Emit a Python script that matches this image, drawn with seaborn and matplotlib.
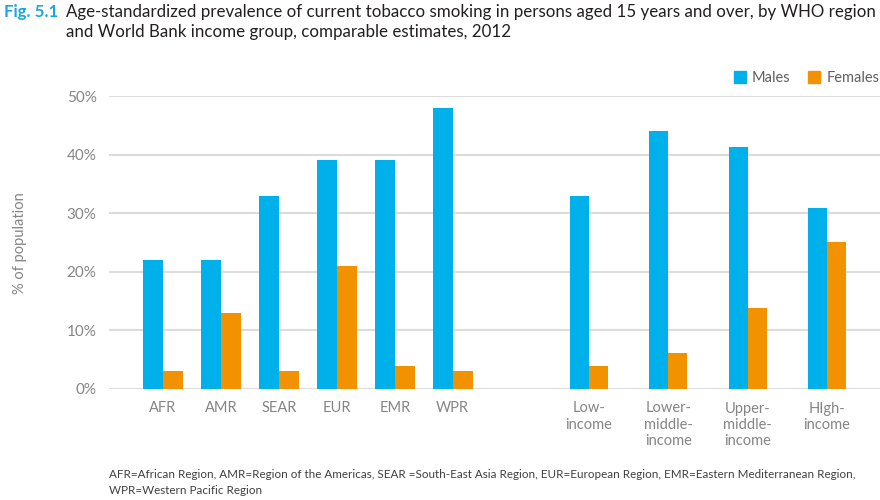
import pandas as pd
import seaborn as sns
import matplotlib.pyplot as plt
from matplotlib.patches import Patch

sns.set_theme(style="whitegrid")
plt.rcParams["font.family"] = ["Lato", "DejaVu Sans"]

# values (% of population)
regions = ["AFR", "AMR", "SEAR", "EUR", "EMR", "WPR"]
region_males = [22, 22, 33, 39, 39, 48]
region_females = [3, 13, 3, 21, 4, 3]

incomes = ["Low-\nincome", "Lower-\nmiddle-\nincome", "Upper-\nmiddle-\nincome", "HIgh-\nincome"]
income_males = [33, 44.1, 41.3, 30.9]
income_females = [3.9, 6.2, 13.8, 25.1]

sexes = ["Males", "Females"]
colors = ["#00B0EA", "#F39200"]
yticks = [0, 10, 20, 30, 40, 50]


def long_df(cats, males, females):
    return pd.DataFrame({
        "group": cats * 2,
        "sex": ["Males"] * len(cats) + ["Females"] * len(cats),
        "value": males + females,
    })


df_reg = long_df(regions, region_males, region_females)
df_inc = long_df(incomes, income_males, income_females)

fig = plt.figure(figsize=(8.8, 5.0), dpi=100)
ax1 = fig.add_axes([109 / 880, 0.222, (520 - 109) / 880, 0.586])
ax2 = fig.add_axes([520 / 880, 0.222, 360 / 880, 0.586])

sns.barplot(data=df_reg, x="group", y="value", hue="sex", hue_order=sexes,
            palette=colors, width=0.69, saturation=1, linewidth=0,
            legend=False, ax=ax1)
sns.barplot(data=df_inc, x="group", y="value", hue="sex", hue_order=sexes,
            palette=colors, width=0.48, saturation=1, linewidth=0,
            legend=False, ax=ax2)

ax1.set_xlim(-0.93, 6.16)
ax2.set_xlim(-0.87, 3.67)

grey = "#858585"
for ax in (ax1, ax2):
    ax.set_ylim(0, 50)
    ax.set_yticks(yticks)
    ax.set_axisbelow(True)
    ax.yaxis.grid(True, color="#dcdcdc", linewidth=1.5)
    ax.xaxis.grid(False)
    for s in ax.spines.values():
        s.set_visible(False)
    ax.set_xlabel("")
    ax.set_ylabel("")
    ax.tick_params(axis="both", length=0, colors=grey, labelsize=10.5)
    ax.tick_params(axis="x", pad=9)
    ax.patch.set_alpha(0)

ax1.set_yticklabels([f"{v}%" for v in yticks])
ax1.tick_params(axis="y", pad=9, labelsize=11)
ax2.set_yticklabels([])
for lbl in ax2.get_xticklabels():
    lbl.set_verticalalignment("top")
    lbl.set_linespacing(1.2)

fig.text(20 / 880, 1 - 243 / 500, "% of population", rotation=90,
         ha="center", va="center", color=grey, fontsize=10.5)

handles = [Patch(color=c, label=s) for c, s in zip(colors, sexes)]
leg = fig.legend(handles=handles, loc="upper right", bbox_to_anchor=(1.014, 1 - 58 / 500),
                 ncol=2, frameon=False, handlelength=0.85, handleheight=0.85,
                 handletextpad=0.4, columnspacing=1.2, fontsize=10.5)
for t in leg.get_texts():
    t.set_color("#606060")

fig.text(4 / 880, 1 - 4 / 500, "Fig. 5.1", color="#1BA6DE", weight="bold",
         fontsize=12.2, va="top")
fig.text(66 / 880, 1 - 4 / 500,
         "Age-standardized prevalence of current tobacco smoking in persons aged 15 years and over, by WHO region\n"
         "and World Bank income group, comparable estimates, 2012",
         color="#231F20", fontsize=12.2, va="top", linespacing=1.32)

fig.text(109 / 880, 1 - 469 / 500,
         "AFR=African Region, AMR=Region of the Americas, SEAR =South-East Asia Region, EUR=European Region, "
         "EMR=Eastern Mediterranean Region,\nWPR=Western Pacific Region",
         color="#404040", fontsize=8.4, va="top", linespacing=1.6)

fig.savefig("out.png", dpi=100)
